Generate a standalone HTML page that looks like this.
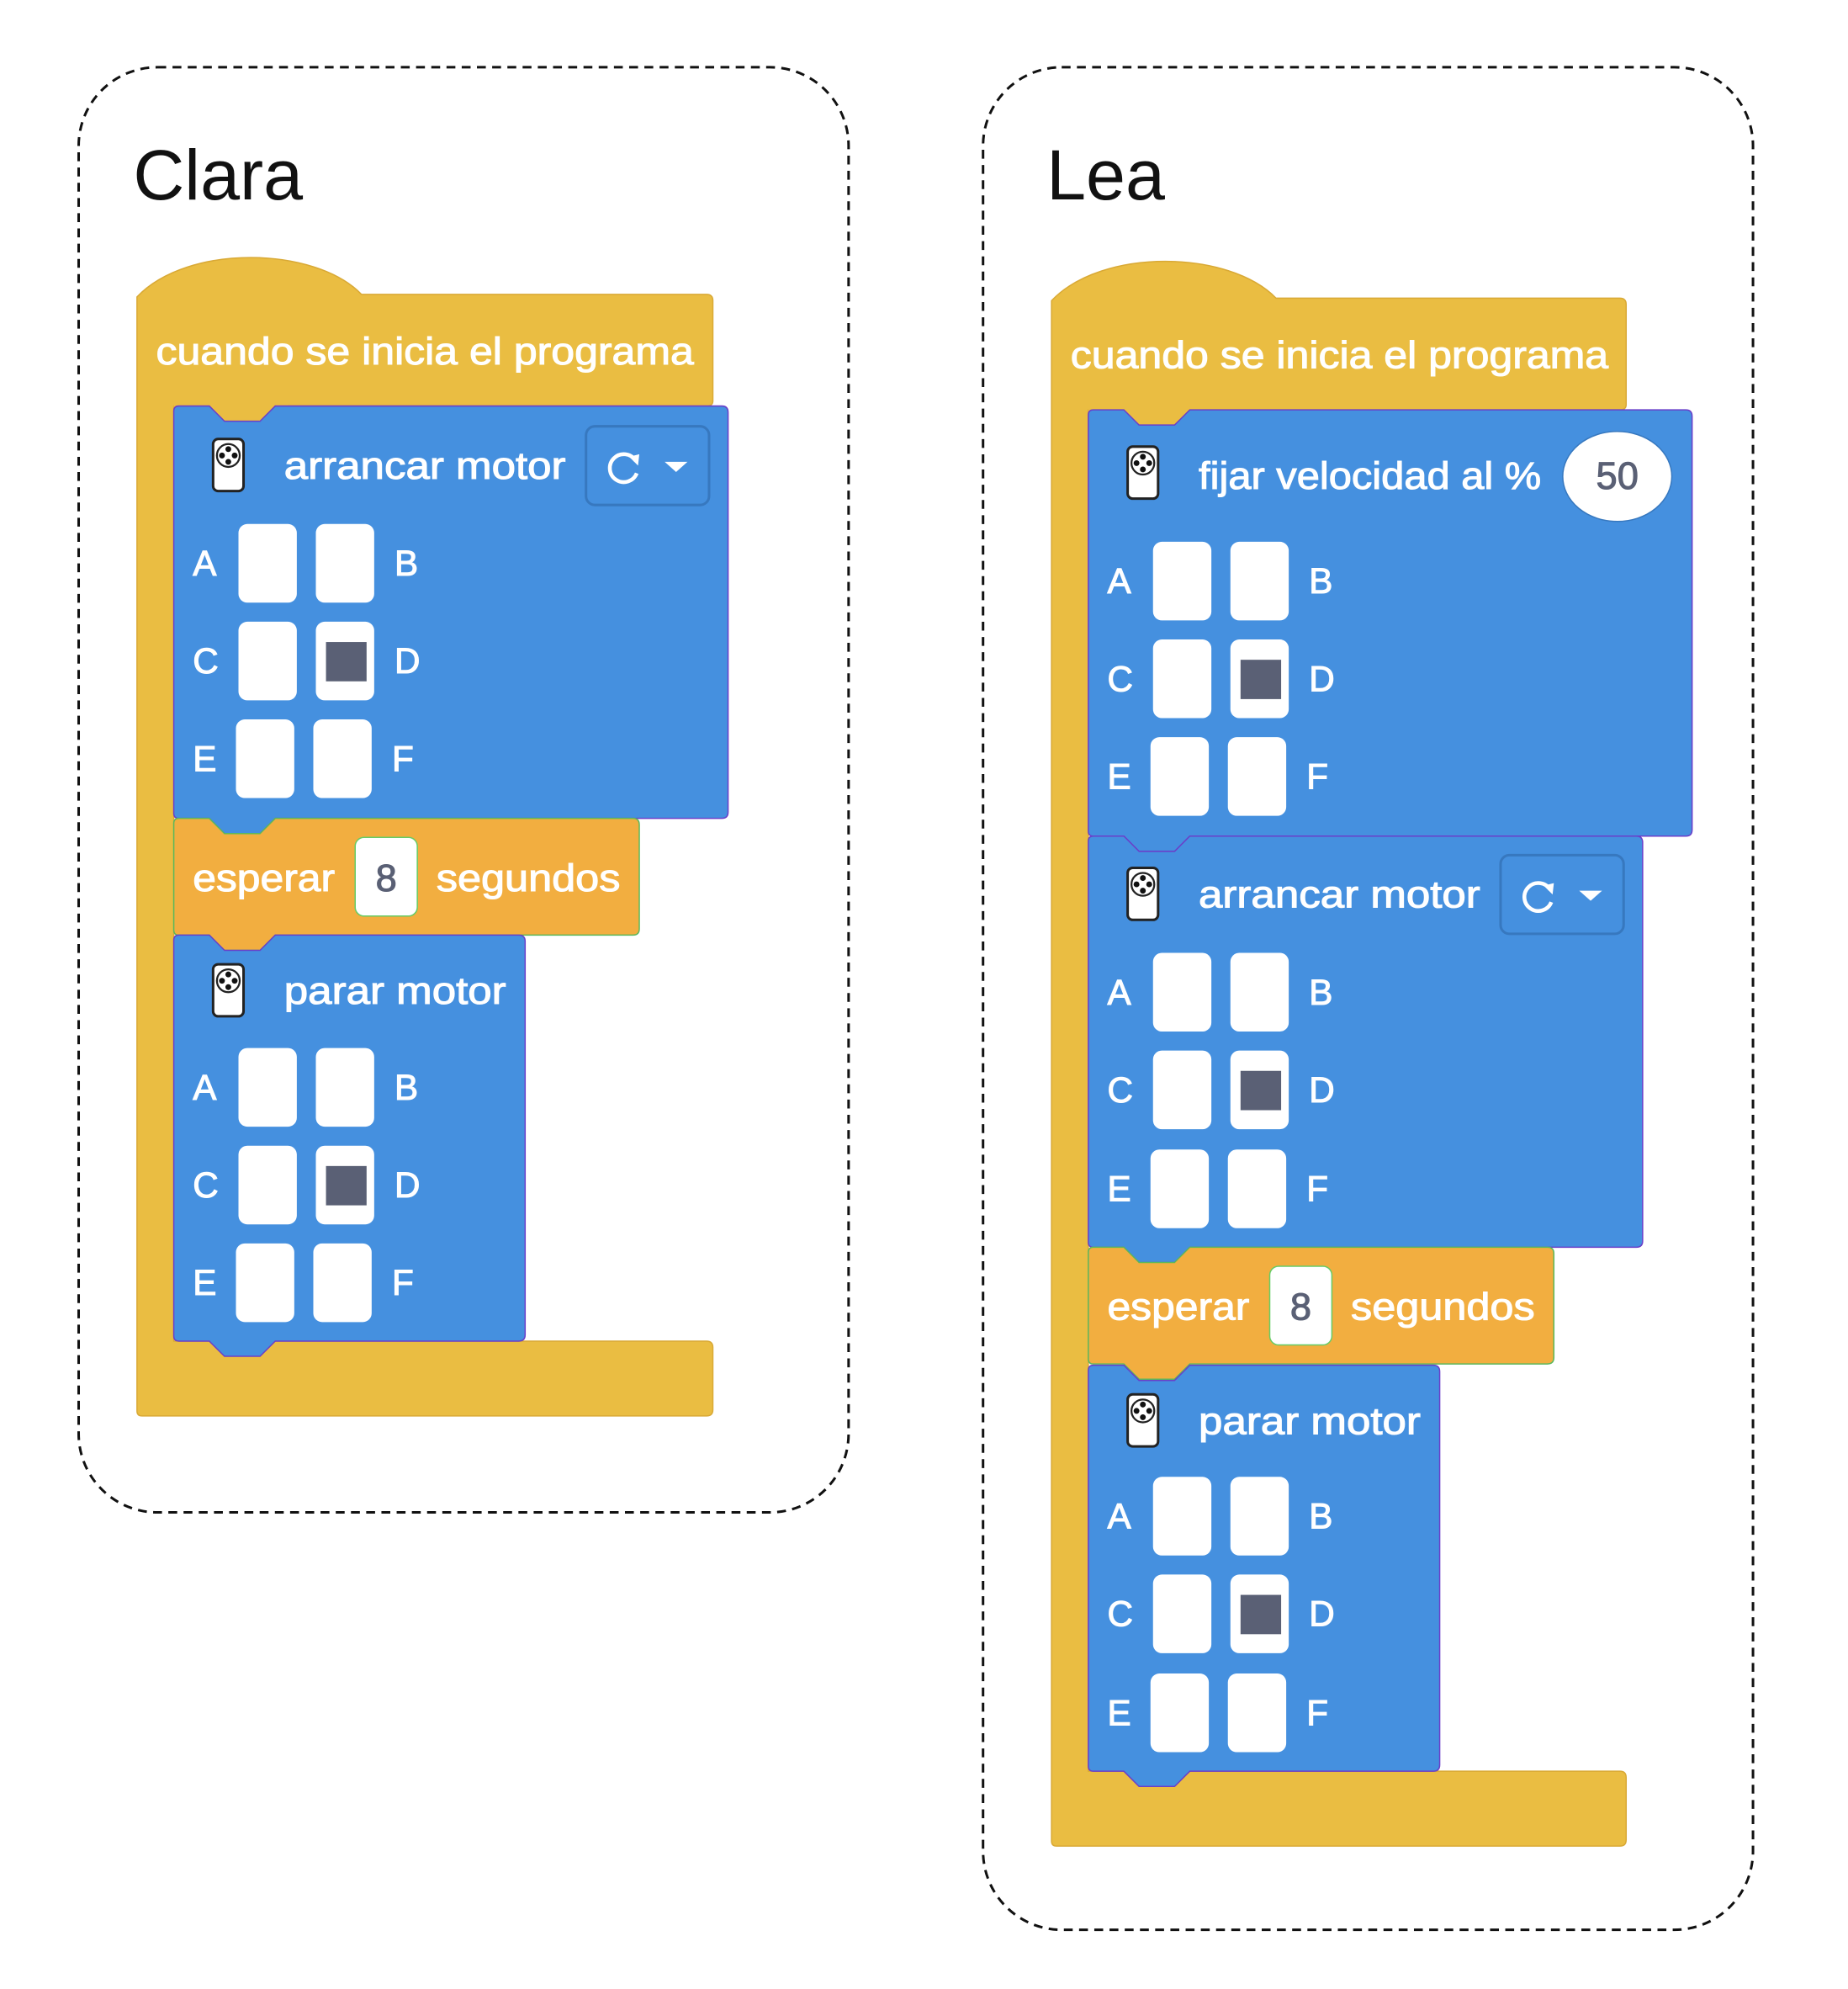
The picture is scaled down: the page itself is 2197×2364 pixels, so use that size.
<!DOCTYPE html>
<html><head><meta charset="utf-8"><style>
html,body{margin:0;padding:0;background:#fff;width:2197px;height:2364px;overflow:hidden}
#wrap{transform:scale(1.508);transform-origin:0 0;width:1464px;height:1575px}
svg text{font-family:"Liberation Sans",sans-serif}
</style></head><body><div id="wrap"><svg id="s" width="1464" height="1575" viewBox="0 0 1464 1575" xmlns="http://www.w3.org/2000/svg"></svg></div>
<script>
var o='';
var Y='#EABD42',B='#4590DF',O='#F2AE40';
function blk(x,y,w,h,c,st){
 o+='<path d="M'+(x+4)+','+y+' L'+(x+28)+','+y+' L'+(x+40)+','+(y+12)+' L'+(x+68)+','+(y+12)+' L'+(x+80)+','+y+' L'+(x+w-5)+','+y+' Q'+(x+w)+','+y+' '+(x+w)+','+(y+5)+' L'+(x+w)+','+(y+h-5)+' Q'+(x+w)+','+(y+h)+' '+(x+w-5)+','+(y+h)+' L'+(x+80)+','+(y+h)+' L'+(x+68)+','+(y+h+12)+' L'+(x+40)+','+(y+h+12)+' L'+(x+28)+','+(y+h)+' L'+(x+4)+','+(y+h)+' Q'+x+','+(y+h)+' '+x+','+(y+h-4)+' L'+x+','+(y+4)+' Q'+x+','+y+' '+(x+4)+','+y+' Z" fill="'+c+'" stroke="'+st+'" stroke-width="1"/>';
}
function txt(x,y,s,size,col,len,anch){
 col=col||'#fff';
 o+='<text x="'+x+'" y="'+y+'" font-size="'+size+'" fill="'+col+'" stroke="'+col+'" stroke-width="0.7" dominant-baseline="central"'+(anch?' text-anchor="middle"':'')+(len?' textLength="'+len+'" lengthAdjust="spacingAndGlyphs"':'')+'>'+s+'</text>';
}
function icon(x,y){
 o+='<rect x="'+x+'" y="'+y+'" width="24" height="41" rx="4" fill="#fff" stroke="#222" stroke-width="2"/>';
 var cx=x+12,cy=y+13;
 o+='<circle cx="'+cx+'" cy="'+cy+'" r="9" fill="#fff" stroke="#222" stroke-width="1.5"/>';
 [[0,-5],[0,5],[-5,0],[5,0]].forEach(function(d){o+='<circle cx="'+(cx+d[0])+'" cy="'+(cy+d[1])+'" r="2.3" fill="#111"/>';});
}
function pads(x,rows){
 var L=[['A','B'],['C','D'],['E','F']];
 rows.forEach(function(cy,i){
  var dx=i==2?-2:0;
  txt(x+15,cy,L[i][0],28,'#fff');
  o+='<rect x="'+(x+51+dx)+'" y="'+(cy-31)+'" width="46" height="62" rx="7" fill="#fff"/>';
  o+='<rect x="'+(x+112+dx)+'" y="'+(cy-31)+'" width="46" height="62" rx="7" fill="#fff"/>';
  if(i==1) o+='<rect x="'+(x+120)+'" y="'+(cy-15)+'" width="32" height="31" fill="#5A6075"/>';
  txt(x+174+dx,cy,L[i][1],28,'#fff');
 });
}
function dd(x,y){
 o+='<rect x="'+x+'" y="'+y+'" width="97" height="62" rx="7" fill="'+B+'" stroke="#3778BF" stroke-width="2"/>';
 var cx=x+30,cy=y+33;
 o+='<path d="M'+(cx+9)+','+(cy-6)+' A11,11 0 1 0 '+(cx+10)+','+(cy+4)+'" fill="none" stroke="#fff" stroke-width="3"/>';
 o+='<path d="M'+(cx+4)+','+(cy-9)+' L'+(cx+12)+','+(cy-11)+' L'+(cx+11)+','+(cy-2)+' Z" fill="#fff"/>';
 o+='<path d="M'+(x+62)+','+(y+28)+' L'+(x+80)+','+(y+28)+' L'+(x+71)+','+(y+36)+' Z" fill="#fff"/>';
}
function hat(x,y,w,bot){
 o+='<path d="M'+x+','+(y+2)+' C'+(x+40)+','+(y-40)+' '+(x+140)+','+(y-38)+' '+(x+177)+','+y+' L'+(x+w-5)+','+y+' Q'+(x+w)+','+y+' '+(x+w)+','+(y+5)+' L'+(x+w)+','+(y+84)+' Q'+(x+w)+','+(y+88)+' '+(x+w-5)+','+(y+88)+' L'+(x+29)+','+(y+88)+' L'+(x+29)+','+bot+' L'+(x+w-5)+','+bot+' Q'+(x+w)+','+bot+' '+(x+w)+','+(bot+5)+' L'+(x+w)+','+(bot+54)+' Q'+(x+w)+','+(bot+59)+' '+(x+w-5)+','+(bot+59)+' L'+(x+4)+','+(bot+59)+' Q'+x+','+(bot+59)+' '+x+','+(bot+55)+' Z" fill="'+Y+'" stroke="#D9A935" stroke-width="1"/>';
 o+='<rect x="'+(x+29)+'" y="'+(y+80)+'" width="90" height="22" fill="'+Y+'"/>';
 txt(x+15,y+45,'cuando se inicia el programa',30,'#fff',424);
}
function wait(x,y){
 blk(x,y,367,92,O,'#5cb85c');
 txt(x+15,y+47,'esperar',30,'#fff',112);
 o+='<rect x="'+(x+143)+'" y="'+(y+15)+'" width="49" height="62" rx="7" fill="#fff" stroke="#6c6" stroke-width="1"/>';
 txt(x+167.5,y+47,'8',30,'#5A6075',0,1);
 txt(x+207,y+47,'segundos',30,'#fff',145);
}
o+='<rect x="62" y="53" width="607" height="1139" rx="62" fill="none" stroke="#111" stroke-width="2" stroke-dasharray="7 5"/>';
o+='<rect x="775" y="53" width="607" height="1468" rx="62" fill="none" stroke="#111" stroke-width="2" stroke-dasharray="7 5"/>';
o+='<text x="105" y="157" font-size="56" fill="#111">Clara</text>';
o+='<text x="825" y="157" font-size="56" fill="#111">Lea</text>';
hat(108,232,454,1057);
blk(137,320,437,325,B,'#6a3fc9');
icon(168,346);txt(224,367,'arrancar motor',30,'#fff',222);dd(462,336);
pads(137,[444,521,598]);
wait(137,645);
blk(137,737,277,320,B,'#6a3fc9');
icon(168,760);txt(224,781,'parar motor',30,'#fff',175);
pads(137,[857,934,1011]);
hat(829,235,453,1396);
blk(858,323,476,336,B,'#6a3fc9');
icon(889,352);txt(945,375,'fijar velocidad al %',30,'#fff',270);
o+='<ellipse cx="1275" cy="375.5" rx="43" ry="35.5" fill="#fff" stroke="#3778BF" stroke-width="1"/>';
txt(1275,375,'50',30,'#5A6075',0,1);
pads(858,[458,535,612]);
blk(858,659,437,324,B,'#6a3fc9');
icon(889,684);txt(945,705,'arrancar motor',30,'#fff',222);dd(1183,674);
pads(858,[782,859,937]);
wait(858,983);
blk(858,1076,277,320,B,'#6a3fc9');
icon(889,1099);txt(945,1120,'parar motor',30,'#fff',175);
pads(858,[1195,1272,1350]);
document.getElementById('s').innerHTML=o;
</script></body></html>
